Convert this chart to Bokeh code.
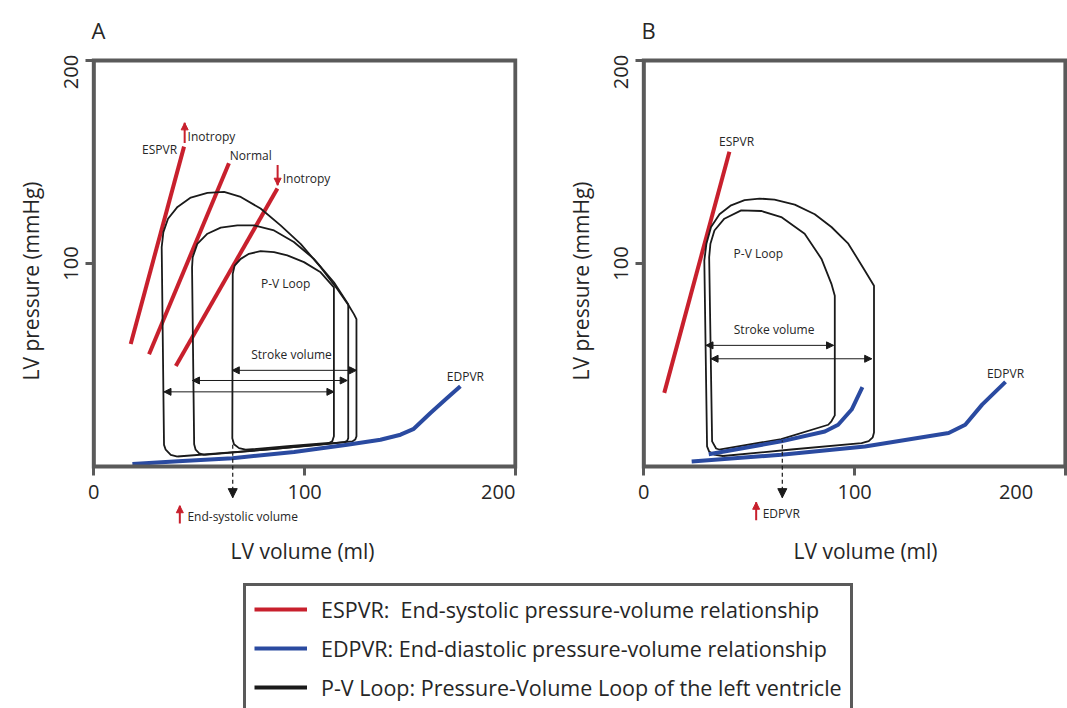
from bokeh.plotting import figure
from bokeh.models import (Whisker, NormalHead, Label, Title, FixedTicker, BoxAnnotation,
                          Legend, LegendItem, ColumnDataSource)
from bokeh.layouts import column, row
from bokeh.embed import file_html
from bokeh.resources import INLINE

RED = "#c8202d"
BLUE = "#2a4aa0"
BLACK = "#1a1a1a"
FRAME = "#5a5a5a"
TXT = "#262626"
FONT = "Open Sans"

X_TICKS = [0, 100, 200]
Y_TICKS = [100, 200]
AXIS_MIN, AXIS_MAX = 0, 200

# ---------------- Panel A data (volume ml, pressure mmHg) ----------------
A_espvr_up_v = [17.5, 42.8]
A_espvr_up_p = [60.4, 157.6]
A_espvr_norm_v = [26.2, 64.1]
A_espvr_norm_p = [55.3, 149.4]
A_espvr_down_v = [38.9, 87.1]
A_espvr_down_p = [49.5, 137.0]

A_edpvr_v = [18.3, 40.0, 65.7, 95.0, 120.2, 136.0, 145.5, 151.8, 159.7, 167.6, 173.9]
A_edpvr_p = [1.3, 2.6, 4.1, 7.2, 10.7, 13.2, 15.7, 18.6, 26.4, 33.8, 39.6]

A_loop1_v = [39.7, 72.8, 104.4, 122.6, 124.0, 124.6, 124.6, 123.4, 121.0, 115.5, 107.6,
             98.1, 88.6, 79.1, 69.7, 61.8, 53.9, 46.0, 39.7, 35.2, 33.0, 32.2, 33.3,
             34.1, 36.5, 39.7]
A_loop1_p = [4.95, 7.6, 10.5, 12.4, 13.3, 14.9, 72.6, 75.1, 79.2, 87.5, 98.2,
             109.7, 118.8, 127.1, 132.8, 135.3, 134.8, 132.5, 127.9, 122.1, 115.5, 108.1, 10.7,
             8.3, 5.8, 4.95]

A_loop2_v = [52.3, 85.0, 118.6, 120.2, 120.7, 120.7, 113.9, 104.4, 94.9, 85.5, 76.0,
             68.1, 60.2, 53.9, 49.1, 46.9, 46.6, 47.6, 48.3, 50.0, 52.3]
A_loop2_p = [5.8, 8.6, 12.0, 12.7, 14.0, 80.0, 90.8, 102.3, 110.6, 116.3, 118.8,
             118.8, 117.7, 114.7, 109.7, 103.1, 98.0, 11.0, 8.3, 6.5, 5.8]

A_loop3_v = [72.0, 92.0, 111.5, 113.1, 113.9, 113.9, 107.6, 99.7, 91.8, 85.5, 79.1,
             73.6, 69.7, 66.8, 65.9, 65.7, 66.5, 68.9, 72.0]
A_loop3_p = [8.3, 10.0, 11.6, 12.4, 14.9, 88.3, 95.7, 100.7, 104.0, 105.6, 106.1,
             104.8, 102.3, 99.0, 94.9, 14.0, 11.0, 9.1, 8.3]

# stroke volume arrows: from volume, to volume, at pressure
A_sv_from = [65.7, 46.8, 33.3]
A_sv_to = [124.6, 120.2, 113.9]
A_sv_at = [47.4, 42.4, 36.8]

# ---------------- Panel B data ----------------
B_espvr_v = [9.7, 40.6]
B_espvr_p = [36.3, 155.1]

B_edpvr1_v = [30.8, 65.2, 85.9, 92.2, 98.6, 103.7]
B_edpvr1_p = [6.1, 12.4, 17.3, 20.6, 28.1, 39.1]
B_edpvr2_v = [22.7, 65.2, 104.9, 144.6, 152.5, 160.5, 171.6]
B_edpvr2_p = [2.5, 5.8, 9.9, 16.5, 20.6, 30.5, 41.7]

B_loop_big_v = [37.6, 70.0, 103.3, 106.7, 108.6, 109.2, 109.2, 104.9, 97.0, 89.0, 81.1,
                71.6, 62.0, 54.9, 47.8, 41.4, 35.9, 31.9, 29.7, 28.7, 30.0, 31.0, 33.3, 37.6]
B_loop_big_p = [5.2, 8.4, 11.5, 12.5, 14.4, 16.8, 89.1, 96.5, 109.8, 118.0, 124.3,
                129.0, 131.5, 132.0, 131.2, 128.7, 124.3, 118.0, 109.8, 101.5, 9.9, 7.4, 5.9, 5.2]

B_loop_small_v = [35.7, 65.2, 87.5, 89.0, 90.6, 90.6, 89.0, 84.3, 76.3, 65.2, 55.7,
                  46.2, 38.2, 33.5, 31.6, 31.0, 32.4, 34.3, 35.7]
B_loop_small_p = [8.4, 13.5, 20.6, 22.3, 25.2, 84.2, 90.0, 102.3, 114.7, 122.9, 125.9,
                  126.2, 122.1, 116.3, 109.8, 103.1, 12.4, 8.9, 8.4]

B_sv_from = [29.5, 31.9]
B_sv_to = [90.0, 108.1]
B_sv_at = [59.7, 53.1]

LEGEND_LABELS = [
    "ESPVR:  End-systolic pressure-volume relationship",
    "EDPVR: End-diastolic pressure-volume relationship",
    "P-V Loop: Pressure-Volume Loop of the left ventricle",
]


def make_panel(letter, width, border_right, xlabel_offset):
    # the plotting area reaches below the volume axis so that the notes
    # under it can be drawn; the visible frame is the 0-200 box
    p = figure(width=width, height=576, x_range=(-3, 201), y_range=(-31, 201.5),
               toolbar_location=None, output_backend="svg",
               min_border_left=87, min_border_right=border_right,
               min_border_top=55, min_border_bottom=47)
    p.title.text = letter
    p.title.text_font = FONT
    p.title.text_font_size = "22px"
    p.title.text_font_style = "normal"
    p.title.text_color = TXT
    p.title.align = "left"
    p.title.offset = 4
    p.title.standoff = 25
    p.grid.visible = False
    p.outline_line_color = None
    p.add_layout(BoxAnnotation(left=AXIS_MIN, right=AXIS_MAX, bottom=AXIS_MIN, top=AXIS_MAX,
                               fill_alpha=0, line_color=FRAME, line_alpha=1, line_width=4,
                               line_join="miter"))
    for ax in (p.xaxis[0], p.yaxis[0]):
        ax.axis_line_color = None
        ax.major_tick_line_color = FRAME
        ax.major_tick_line_width = 3
        ax.minor_tick_line_color = None
        ax.major_label_text_font = FONT
        ax.major_label_text_font_size = "20px"
        ax.major_label_text_color = TXT
    xa = p.xaxis[0]
    xa.fixed_location = 0
    xa.ticker = FixedTicker(ticks=X_TICKS)
    xa.major_label_overrides = {200: "200" + "\u2007" * 3}
    xa.major_tick_in = 0
    xa.major_tick_out = 9
    xa.major_label_standoff = 2
    ya = p.yaxis[0]
    ya.ticker = FixedTicker(ticks=Y_TICKS)
    ya.major_label_overrides = {200: "200" + "\u2007" * 2}
    ya.major_label_orientation = "parallel"
    ya.major_tick_in = 6
    ya.major_tick_out = 2
    ya.major_label_standoff = 1
    p.add_layout(Title(text="LV pressure (mmHg)", align="left", offset=149, standoff=19,
                       text_font=FONT, text_font_size="21px", text_font_style="normal",
                       text_color=TXT), "left")
    p.add_layout(Title(text="LV volume (ml)", align="left", offset=xlabel_offset,
                       standoff=10, text_font=FONT, text_font_size="21px",
                       text_font_style="normal", text_color=TXT), "below")
    return p


def label(p, x, y, text, align="center", size="12px"):
    p.add_layout(Label(x=x, y=y, text=text, text_align=align, text_baseline="middle",
                       text_font=FONT, text_font_size=size, text_color=TXT,
                       level="overlay"))


def head(color, size):
    return NormalHead(size=size, fill_color=color, line_color=color, line_width=1)


def vertical_arrow(p, x, y_from, y_to, color, width, size=7, dash="solid"):
    up = y_to > y_from
    src = ColumnDataSource(data=dict(base=[x], lower=[min(y_from, y_to)],
                                     upper=[max(y_from, y_to)]))
    p.add_layout(Whisker(source=src, base="base", lower="lower", upper="upper",
                         dimension="height",
                         upper_head=head(color, size) if up else None,
                         lower_head=None if up else head(color, size),
                         line_color=color, line_width=width, line_dash=dash,
                         level="overlay"))


def stroke_arrows(p, x_from, x_to, at):
    src = ColumnDataSource(data=dict(base=at, lower=x_from, upper=x_to))
    p.add_layout(Whisker(source=src, base="base", lower="lower", upper="upper",
                         dimension="width", lower_head=head(BLACK, 7),
                         upper_head=head(BLACK, 7), line_color=BLACK, line_width=1,
                         level="overlay"))


# ---------------- Panel A ----------------
pA = make_panel("A", 550, 33, 143)
for v, pr in ((A_espvr_up_v, A_espvr_up_p), (A_espvr_norm_v, A_espvr_norm_p),
              (A_espvr_down_v, A_espvr_down_p)):
    pA.line(v, pr, line_color=RED, line_width=4)
for v, pr in ((A_loop1_v, A_loop1_p), (A_loop2_v, A_loop2_p), (A_loop3_v, A_loop3_p)):
    pA.line(v, pr, line_color=BLACK, line_width=1.8, line_join="round")
pA.line(A_edpvr_v, A_edpvr_p, line_color=BLUE, line_width=4, line_join="round")
stroke_arrows(pA, A_sv_from, A_sv_to, A_sv_at)
label(pA, 39.5, 156.4, "ESPVR", align="right")
vertical_arrow(pA, 43.1, 159.4, 169.3, RED, 2)
label(pA, 44.5, 162.4, "Inotropy", align="left")
label(pA, 64.5, 153.0, "Normal", align="left")
vertical_arrow(pA, 87.2, 148.5, 138.6, RED, 2)
label(pA, 89.6, 142.1, "Inotropy", align="left")
label(pA, 91.0, 90.1, "P-V Loop")
label(pA, 93.8, 55.4, "Stroke volume")
label(pA, 176.3, 44.6, "EDPVR")
vertical_arrow(pA, 65.9, 12.4, -15.3, BLACK, 1.2, size=9, dash="4 3")
vertical_arrow(pA, 40.8, -28.0, -19.3, RED, 2)
label(pA, 44.4, -24.5, "End-systolic volume", align="left")

# ---------------- Panel B ----------------
pB = make_panel("B", 517, 0, 156)
pB.line(B_espvr_v, B_espvr_p, line_color=RED, line_width=4)
for v, pr in ((B_loop_big_v, B_loop_big_p), (B_loop_small_v, B_loop_small_p)):
    pB.line(v, pr, line_color=BLACK, line_width=1.8, line_join="round")
pB.line(B_edpvr1_v, B_edpvr1_p, line_color=BLUE, line_width=4, line_join="round")
pB.line(B_edpvr2_v, B_edpvr2_p, line_color=BLUE, line_width=4, line_join="round")
stroke_arrows(pB, B_sv_from, B_sv_to, B_sv_at)
label(pB, 44.0, 160.0, "ESPVR")
label(pB, 54.3, 105.0, "P-V Loop")
label(pB, 61.8, 67.7, "Stroke volume")
label(pB, 171.6, 45.7, "EDPVR")
vertical_arrow(pB, 65.7, 12.8, -15.3, BLACK, 1.2, size=9, dash="4 3")
vertical_arrow(pB, 53.3, -26.5, -17.6, RED, 2)
label(pB, 56.4, -23.0, "EDPVR", align="left")

# ---------------- Legend ----------------
pL = figure(width=1067, height=132, toolbar_location=None, output_backend="svg",
            x_range=(0, 1), y_range=(0, 1), x_axis_type=None, y_axis_type=None,
            min_border=0)
pL.grid.visible = False
pL.outline_line_color = None
# legend sample renderers kept outside the visible range
rl1 = pL.line(x=[-10, -9], y=[-10, -10], line_color=RED, line_width=4)
rl2 = pL.line(x=[-10, -9], y=[-10, -10], line_color=BLUE, line_width=4)
rl3 = pL.line(x=[-10, -9], y=[-10, -10], line_color=BLACK, line_width=4)
leg = Legend(items=[LegendItem(label=LEGEND_LABELS[0], renderers=[rl1]),
                    LegendItem(label=LEGEND_LABELS[1], renderers=[rl2]),
                    LegendItem(label=LEGEND_LABELS[2], renderers=[rl3])],
             location=(243, -5), border_line_color=FRAME, border_line_width=3,
             border_line_alpha=1, padding=8, spacing=9, glyph_width=53, glyph_height=30,
             label_height=30, label_standoff=14, label_text_font=FONT,
             label_text_font_size="21.5px", label_text_color=TXT, margin=0,
             background_fill_alpha=1)
pL.add_layout(leg, "center")

layout = column(row(pA, pB), pL)
open("out.html", "w").write(file_html(layout, INLINE))
